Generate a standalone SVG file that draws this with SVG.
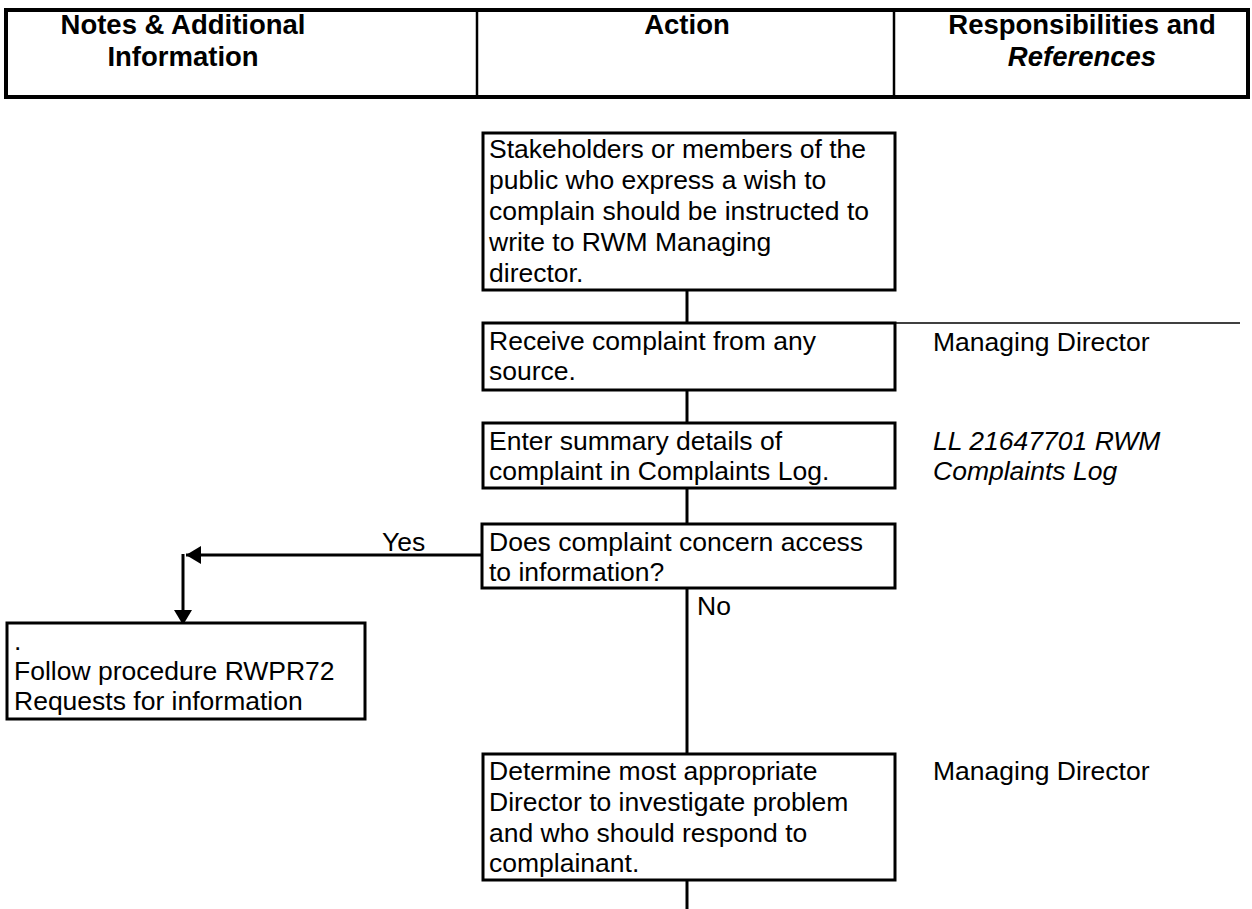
<svg xmlns="http://www.w3.org/2000/svg" width="1252" height="909" viewBox="0 0 1252 909">
<style>
.t{font-family:"Liberation Sans",Arial,sans-serif;font-size:26.5px;fill:#000}
.h{font-family:"Liberation Sans",Arial,sans-serif;font-size:27.5px;font-weight:bold;fill:#000;text-anchor:middle}
.i{font-style:italic}
.box{fill:#fff;stroke:#000;stroke-width:3}
.ln{fill:none;stroke:#000;stroke-width:3}
</style>
<defs>
<marker id="ah" markerWidth="6" markerHeight="6" refX="5" refY="3" orient="auto" markerUnits="strokeWidth">
<path d="M0,0 L5,3 L0,6 Z" fill="#000"/>
</marker>
</defs>
<g id="header">
<rect x="6" y="10" width="1242" height="87" fill="#fff" stroke="#000" stroke-width="4"/>
<line x1="477" y1="10" x2="477" y2="97" stroke="#000" stroke-width="2.5"/>
<line x1="894" y1="10" x2="894" y2="97" stroke="#000" stroke-width="2.5"/>
<text class="h" x="183" y="34">Notes &amp; Additional</text>
<text class="h" x="183" y="66">Information</text>
<text class="h" x="687" y="34">Action</text>
<text class="h" x="1082" y="34">Responsibilities and</text>
<text class="h i" x="1082" y="66">References</text>
</g>
<g id="connectors">
<line class="ln" x1="687" y1="290" x2="687" y2="323"/>
<line class="ln" x1="687" y1="390" x2="687" y2="423"/>
<line class="ln" x1="687" y1="488" x2="687" y2="524"/>
<line class="ln" x1="687" y1="588" x2="687" y2="754"/>
<line class="ln" x1="687" y1="880" x2="687" y2="909"/>
<line class="ln" x1="482" y1="555" x2="186" y2="555" marker-end="url(#ah)"/>
<line class="ln" x1="183" y1="554" x2="183" y2="625" marker-end="url(#ah)"/>
<line x1="895" y1="323" x2="1240" y2="323" stroke="#000" stroke-width="1.5"/>
<text class="t" x="382" y="551">Yes</text>
<text class="t" x="697" y="615">No</text>
</g>
<g id="n1">
<rect class="box" x="483" y="133" width="412" height="157"/>
<text class="t" x="489" y="158">Stakeholders or members of the</text>
<text class="t" x="489" y="189">public who express a wish to</text>
<text class="t" x="489" y="220">complain should be instructed to</text>
<text class="t" x="489" y="251">write to RWM Managing</text>
<text class="t" x="489" y="282">director.</text>
</g>
<g id="n2">
<rect class="box" x="483" y="323" width="412" height="67"/>
<text class="t" x="489" y="350">Receive complaint from any</text>
<text class="t" x="489" y="380">source.</text>
<text class="t" x="933" y="351">Managing Director</text>
</g>
<g id="n3">
<rect class="box" x="483" y="423" width="412" height="65"/>
<text class="t" x="489" y="450">Enter summary details of</text>
<text class="t" x="489" y="480">complaint in Complaints Log.</text>
<text class="t i" x="933" y="450">LL 21647701 RWM</text>
<text class="t i" x="933" y="480">Complaints Log</text>
</g>
<g id="n4">
<rect class="box" x="482" y="524" width="413" height="64"/>
<text class="t" x="489" y="551">Does complaint concern access</text>
<text class="t" x="489" y="581">to information?</text>
</g>
<g id="n5">
<rect class="box" x="7" y="623" width="358" height="96"/>
<text class="t" x="14" y="650">.</text>
<text class="t" x="14" y="680">Follow procedure RWPR72</text>
<text class="t" x="14" y="710">Requests for information</text>
</g>
<g id="n6">
<rect class="box" x="483" y="754" width="412" height="126"/>
<text class="t" x="489" y="780">Determine most appropriate</text>
<text class="t" x="489" y="811">Director to investigate problem</text>
<text class="t" x="489" y="842">and who should respond to</text>
<text class="t" x="489" y="872">complainant.</text>
<text class="t" x="933" y="780">Managing Director</text>
</g>
</svg>
